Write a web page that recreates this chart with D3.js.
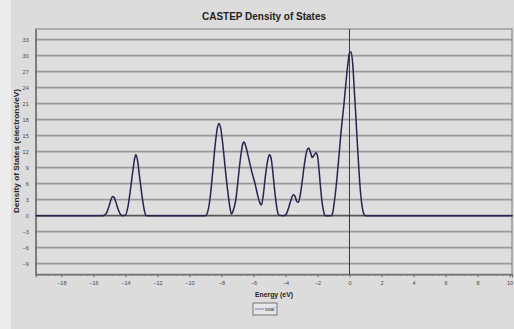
<!DOCTYPE html>
<html><head><meta charset="utf-8">
<script src="https://cdn.jsdelivr.net/npm/d3@7/dist/d3.min.js"></script>
<style>
html,body{margin:0;padding:0;background:#dcdcdc;}
svg{display:block;}
</style></head>
<body><svg id="chart" width="514" height="329"></svg>
<script>
// Data
const energy = [-19.6,-15.4,-15.2,-15.0,-14.9,-14.8,-14.7,-14.6,-14.45,-14.3,-14.2,-14.0,-13.85,-13.7,-13.55,-13.4,-13.35,-13.25,-13.1,-12.95,-12.8,-12.7,
 -9.0,-8.85,-8.7,-8.55,-8.4,-8.25,-8.15,-8.05,-7.9,-7.75,-7.6,-7.45,-7.38,-7.28,-7.1,-6.95,-6.8,-6.65,-6.58,-6.48,-6.3,-6.1,-5.9,-5.75,-5.6,-5.5,-5.4,-5.25,-5.1,-5.0,-4.9,-4.8,-4.7,-4.6,-4.5,-4.4,
 -4.1,-3.95,-3.8,-3.65,-3.5,-3.4,-3.28,-3.2,-3.1,-2.95,-2.8,-2.65,-2.55,-2.45,-2.32,-2.2,-2.1,-2.0,-1.9,-1.8,-1.7,-1.6,-1.5,
 -1.15,-1.05,-0.95,-0.8,-0.65,-0.55,-0.45,-0.35,-0.25,-0.1,0.0,0.1,0.2,0.3,0.4,0.5,0.6,0.7,0.8,0.9,1.0,10.2];
const dos = [0,0,0.4,2.0,3.0,3.6,3.4,2.6,1.2,0.2,0,0.1,1.5,4.5,8.0,11.0,11.4,10.5,7.0,3.5,0.8,0,
 0,0.8,3.5,8.0,13.0,16.5,17.3,16.5,13.0,8.5,4.5,1.2,0.3,0.8,3.0,7.0,11.0,13.6,13.8,13.0,10.8,8.2,6.0,4.0,2.4,2.0,3.5,7.5,10.5,11.4,10.8,8.5,5.5,2.8,0.8,0.1,
 0,0.3,1.5,3.0,3.9,3.6,2.6,2.5,3.5,6.5,10.0,12.3,12.7,12.0,10.9,11.4,11.8,11.2,8.5,5.0,2.2,0.6,0,
 0,0.5,2.5,6.5,11.5,15.0,18.0,20.8,24.0,28.5,30.5,30.7,28.5,23.5,18.5,13.0,8.0,4.0,1.5,0.3,0,0];
const seriesName = "total";
const xTicks = [-18,-16,-14,-12,-10,-8,-6,-4,-2,0,2,4,6,8,10];
const yTicks = [-9,-6,-3,0,3,6,9,12,15,18,21,24,27,30,33];
const titleText = "CASTEP Density of States";
const xLabel = "Energy (eV)";
const yLabel = "Density of States (electrons/eV)";

const svg = d3.select("#chart");
const W = 514, H = 329;
const m = {left:35.7, right:512, top:29, bottom:274.3};
const x = d3.scaleLinear().domain([-19.6,10.15]).range([m.left, m.right]);
const y = d3.scaleLinear().domain([-11,35]).range([m.bottom, m.top]);

svg.append("rect").attr("x",0).attr("y",0).attr("width",W).attr("height",H).attr("fill","#dcdcdc");
svg.append("rect").attr("x",0).attr("y",0).attr("width",11).attr("height",H).attr("fill","#ececec");
svg.append("rect").attr("x",m.left).attr("y",m.top).attr("width",m.right-m.left).attr("height",m.bottom-m.top)
  .attr("fill","#dedede");

// gridlines
svg.append("g").selectAll("line").data(yTicks).join("line")
  .attr("x1",m.left).attr("x2",m.right)
  .attr("y1",d=>y(d)).attr("y2",d=>y(d))
  .attr("stroke", d=> d===0 ? "#555" : "#9a9a9a").attr("stroke-width",1.7);

// border
svg.append("rect").attr("x",m.left).attr("y",m.top).attr("width",m.right-m.left).attr("height",m.bottom-m.top)
  .attr("fill","none").attr("stroke","#8a8a8a").attr("stroke-width",1.2);

// Fermi level line
svg.append("line").attr("x1",x(0)).attr("x2",x(0)).attr("y1",m.top).attr("y2",m.bottom)
  .attr("stroke","#3a3a3a").attr("stroke-width",1);

// axes
const xAxis = svg.append("g").attr("transform",`translate(0,${m.bottom})`)
  .call(d3.axisBottom(x).tickValues(xTicks).tickSize(3).tickPadding(4).tickFormat(d3.format("d")));
xAxis.select(".domain").attr("stroke","#666").attr("stroke-width",1.2);
xAxis.selectAll(".tick line").attr("stroke","#666");
xAxis.selectAll("text").attr("font-family","Liberation Sans, Arial").attr("font-size",5.5).attr("fill","#444");
svg.append("g").attr("transform",`translate(0,${m.bottom})`)
  .call(d3.axisBottom(x).tickValues(d3.range(-19.2,10.2,0.4)).tickSize(1.5).tickFormat(""))
  .call(g=>{g.select(".domain").remove(); g.selectAll("line").attr("stroke","#777");});

const yAxis = svg.append("g").attr("transform",`translate(${m.left},0)`)
  .call(d3.axisLeft(y).tickValues(yTicks).tickSize(0).tickPadding(7).tickFormat(d3.format("d")));
yAxis.select(".domain").attr("stroke","#666").attr("stroke-width",1.2);
yAxis.selectAll("text").attr("font-family","Liberation Sans, Arial").attr("font-size",5.5).attr("fill","#444");

// curve
const pts = energy.map((e,i)=>[e,dos[i]]);
const line = d3.line().x(d=>x(d[0])).y(d=>y(d[1])).curve(d3.curveMonotoneX);
svg.append("path").datum(pts).attr("d",line).attr("fill","none")
  .attr("stroke","#25254f").attr("stroke-width",1.5).attr("stroke-linejoin","round");

// title
svg.append("text").attr("x",264).attr("y",20).attr("text-anchor","middle")
  .attr("font-family","Liberation Sans, Arial").attr("font-weight","bold")
  .attr("font-size",11.5).attr("fill","#222")
  .attr("textLength",124).attr("lengthAdjust","spacingAndGlyphs").text(titleText);

// x label
svg.append("text").attr("x",274).attr("y",297).attr("text-anchor","middle")
  .attr("font-family","Liberation Sans, Arial").attr("font-weight","bold")
  .attr("font-size",7.5).attr("fill","#222")
  .attr("textLength",38).attr("lengthAdjust","spacingAndGlyphs").text(xLabel);

// y label
svg.append("text").attr("transform",`translate(19,151) rotate(-90)`).attr("text-anchor","middle")
  .attr("font-family","Liberation Sans, Arial").attr("font-weight","bold")
  .attr("font-size",7.5).attr("fill","#222")
  .attr("textLength",124).attr("lengthAdjust","spacingAndGlyphs").text(yLabel);

// legend
const lg = svg.append("g").attr("transform","translate(253,303)");
lg.append("rect").attr("width",24).attr("height",12).attr("fill","#e6e6e6").attr("stroke","#777").attr("stroke-width",1);
lg.append("line").attr("x1",2).attr("x2",11).attr("y1",6).attr("y2",6).attr("stroke","#8a8ac8").attr("stroke-width",1.2);
lg.append("text").attr("x",12).attr("y",8).attr("font-family","Liberation Sans, Arial").attr("font-size",5)
  .attr("fill","#333").text(seriesName);
</script></body></html>
